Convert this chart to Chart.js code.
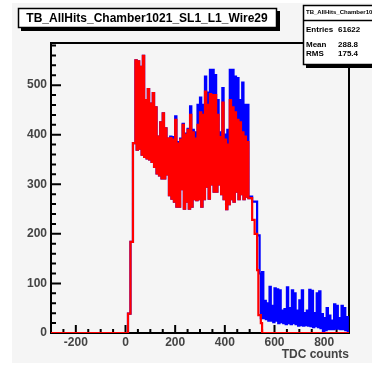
<!DOCTYPE html>
<html>
<head>
<meta charset="utf-8">
<script src="https://cdn.jsdelivr.net/npm/chart.js@4.4.0/dist/chart.umd.min.js"></script>
<style>
  body{margin:0;background:#fff;}
</style>
</head>
<body>
<canvas id="chart" width="372" height="366"></canvas>
<script>
const xMin = -300, xMax = 900, firstBin = 0, binWidth = 10;
const yMax = 585;
const xTickLabels = [-200, 0, 200, 400, 600, 800];
const yTickLabels = [0, 100, 200, 300, 400, 500];
const xMinorStep = 50, yMinorStep = 20;

// one entry per 10-count bin from 0 to 890: top and bottom of the jagged band
const redHi = [0,39,184,383,550,548,537,559,470,492,
  463,484,455,396,425,443,413,392,393,390,
  430,382,390,420,400,410,440,405,392,420,
  445,440,487,460,482,480,480,440,395,465,
  390,380,470,455,445,430,425,405,396,385,
  272,228,200,127,36,0,0,0,0,0,
  0,0,0,0,0,0,0,0,0,0,
  0,0,0,0,0,0,0,0,0,0,
  0,0,0,0,0,0,0,0,0,0];
const redLo = [0,39,184,383,370,372,360,355,352,350,
  345,335,322,318,312,312,320,278,271,265,
  255,255,290,251,265,251,255,270,268,270,
  255,270,295,271,300,285,285,300,280,270,
  250,260,270,265,285,270,280,270,275,272,
  272,228,200,36,20,0,0,0,0,0,
  0,0,0,0,0,0,0,0,0,0,
  0,0,0,0,0,0,0,0,0,0,
  0,0,0,0,0,0,0,0,0,0];
const blueHi = [0,39,184,383,550,548,537,559,470,492,
  463,484,455,396,425,443,413,392,396,395,
  437,385,392,422,402,412,457,410,405,460,
  475,460,517,485,531,531,520,470,405,494,
  400,410,531,531,517,514,470,505,460,460,
  275,265,265,197,120,123,65,60,93,55,
  90,88,86,45,48,92,50,86,80,45,
  66,86,40,45,87,85,40,80,84,38,
  30,50,35,25,58,55,30,55,50,32];
const blueLo = [0,39,184,383,370,372,360,355,352,350,
  345,335,322,318,312,312,320,278,271,265,
  255,255,290,251,265,251,255,270,268,270,
  255,270,295,271,300,285,285,300,280,270,
  250,260,270,265,285,270,280,270,275,272,
  275,265,265,197,30,30,28,25,25,22,
  25,20,22,20,18,20,18,20,18,15,
  16,15,16,15,14,12,14,12,10,4,
  6,8,8,8,9,9,8,8,6,4];

const titleText = "TB_AllHits_Chamber1021_SL1_L1_Wire29";
const statsName = "TB_AllHits_Chamber1021_SL1_L1_Wire29";
const statsRows = [["Entries", "61622", 30], ["Mean", "288.8", 45], ["RMS", "175.4", 54]];

// points at bin left edges; with stepped 'before' each value holds until the next edge
function steps(hi, lo){
  let pts = [{x: xMin, y: 0}];
  hi.forEach((h, i) => {
    let x0 = firstBin + i * binWidth;
    pts.push({x: x0, y: h});
    pts.push({x: x0 + binWidth / 2, y: lo[i]});
  });
  pts.push({x: xMax, y: 0});
  return pts;
}

const rootLook = {
  id: 'rootLook',
  beforeDraw(c){
    const ctx = c.ctx;
    ctx.save();
    ctx.fillStyle = '#f5f5f5';
    ctx.fillRect(12, 3, 360, 360);
    ctx.restore();
  },
  beforeDatasetsDraw(c){
    const {ctx, chartArea: a, scales: {x, y}} = c;
    ctx.save();
    ctx.strokeStyle = '#000';
    ctx.lineWidth = 2;
    ctx.strokeRect(a.left, a.top, a.right - a.left, a.bottom - a.top);
    ctx.beginPath();
    for(let v = 0; v <= yMax; v += yMinorStep){
      let py = y.getPixelForValue(v);
      let len = v % 100 === 0 ? 10 : 5;
      ctx.moveTo(a.left, py); ctx.lineTo(a.left + len, py);
    }
    for(let v = xMin; v <= xMax; v += xMinorStep){
      let px = x.getPixelForValue(v);
      let len = v % 200 === 0 ? 8 : 4;
      ctx.moveTo(px, a.bottom); ctx.lineTo(px, a.bottom - len);
    }
    ctx.stroke();
    ctx.restore();
  },
  afterDraw(c){
    const ctx = c.ctx;
    ctx.save();
    // title box
    ctx.fillStyle = '#000';
    ctx.fillRect(21, 11, 259, 20);
    ctx.fillStyle = '#fff';
    ctx.fillRect(18, 8, 259, 20);
    ctx.strokeStyle = '#000';
    ctx.lineWidth = 1.5;
    ctx.strokeRect(18.5, 8.5, 258, 19);
    ctx.fillStyle = '#000';
    ctx.font = 'bold 12px "Liberation Sans", Arial, sans-serif';
    ctx.textAlign = 'center';
    ctx.textBaseline = 'middle';
    ctx.fillText(titleText, 147, 18.5);
    // stats box
    ctx.fillStyle = '#000';
    ctx.fillRect(306, 8, 80, 60);
    ctx.fillStyle = '#fff';
    ctx.fillRect(303, 5, 80, 60);
    ctx.strokeRect(303.5, 5.5, 80, 59);
    ctx.beginPath();
    ctx.moveTo(303, 20.5); ctx.lineTo(372, 20.5);
    ctx.stroke();
    ctx.fillStyle = '#000';
    ctx.textAlign = 'left';
    ctx.font = 'bold 6px "Liberation Sans", Arial, sans-serif';
    ctx.fillText(statsName, 306, 12.5);
    ctx.font = 'bold 8px "Liberation Sans", Arial, sans-serif';
    statsRows.forEach(r => {
      ctx.fillText(r[0], 306, r[2]);
      ctx.fillText(r[1], 338, r[2]);
    });
    ctx.restore();
  }
};

new Chart(document.getElementById('chart'), {
  type: 'line',
  data: {
    datasets: [
      {data: steps(redHi, redLo), borderColor: '#ff0000', borderWidth: 2.2, stepped: 'before', pointRadius: 0},
      {data: steps(blueHi, blueLo), borderColor: '#0000ff', borderWidth: 2.2, stepped: 'before', pointRadius: 0}
    ]
  },
  options: {
    responsive: false,
    animation: false,
    layout: {padding: {top: 43, right: 23, left: 0, bottom: 0}},
    plugins: {legend: {display: false}, tooltip: {enabled: false}},
    scales: {
      x: {
        type: 'linear', min: xMin, max: xMax,
        grid: {display: false, drawTicks: false},
        border: {display: false},
        afterBuildTicks: s => { s.ticks = xTickLabels.map(v => ({value: v})); },
        afterFit: s => { s.height = 33; },
        ticks: {padding: 2, maxRotation: 0, color: '#444',
          font: {family: 'Liberation Sans', size: 12, weight: 'bold'}},
        title: {display: true, text: 'TDC counts', align: 'end', color: '#444',
          padding: {top: 0, bottom: 4},
          font: {family: 'Liberation Sans', size: 12, weight: 'bold'}}
      },
      y: {
        min: 0, max: yMax,
        grid: {display: false, drawTicks: false},
        border: {display: false},
        afterBuildTicks: s => { s.ticks = yTickLabels.map(v => ({value: v})); },
        afterFit: s => { s.width = 51; },
        ticks: {padding: 4, color: '#444',
          font: {family: 'Liberation Sans', size: 12, weight: 'bold'}}
      }
    }
  },
  plugins: [rootLook]
});
</script>
</body>
</html>
